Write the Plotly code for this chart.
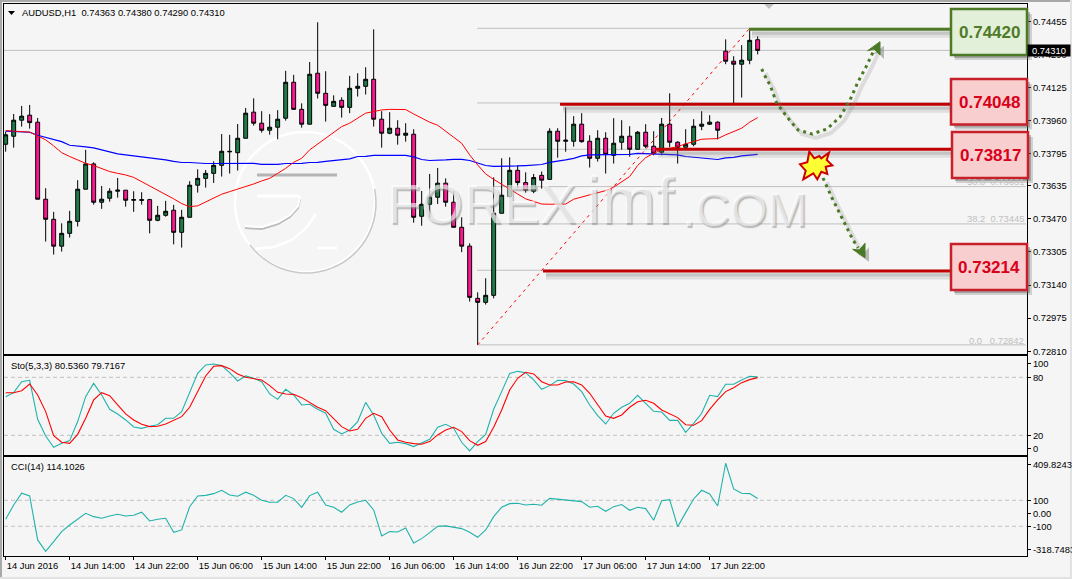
import numpy as np
import plotly.graph_objects as go

W, H = 1072, 579
FONT = "Liberation Sans"
FS = 9.4

# ---------- data (prices in 1e-5 units) ----------
opens = [73842,73882,73962,73987,73952,73568,73468,73334,73398,73458,
 73618,73744,73553,73573,73608,73613,73563,73566,73566,73463,
 73488,73513,73403,73478,73638,73672,73697,73737,73807,73800,
 73872,74002,73947,73912,73927,73972,74151,74016,73942,74196,
 74096,74031,74061,74026,74121,74131,74166,73967,73897,73922,
 73887,73892,73483,73543,73578,73648,73553,73428,73334,73074,
 73054,73089,73498,73581,73712,73651,73608,73687,73667,73907,
 73857,73857,73942,73857,73772,73872,73787,73852,73882,73817,
 73902,73832,73802,73942,73852,73827,73842,73932,73942,73952,
 74306,74256,74241,74261,74363]
highs = [73905,73993,74033,74038,73973,73623,73505,73448,73510,73663,
 73814,73752,73634,73623,73674,73613,73608,73603,73570,73535,
 73560,73540,73515,73658,73717,73714,73757,73893,73889,73943,
 74023,74071,74007,73992,74012,74208,74188,74046,74252,74450,
 74206,74086,74076,74183,74196,74226,74415,74007,74002,73962,
 73947,73917,73609,73694,73724,73672,73608,73478,73348,73104,
 73174,73677,73772,73777,73737,73702,73694,73706,73922,73922,
 74026,73982,73997,73887,73912,73902,73972,73962,73932,73908,
 73942,73907,73973,74096,73857,73917,73967,74007,73987,73957,
 74365,74281,74336,74415,74380]
lows = [73805,73825,73930,73920,73568,73357,73292,73307,73377,73432,
 73618,73541,73520,73556,73576,73531,73505,73541,73398,73458,
 73481,73343,73327,73478,73601,73626,73649,73681,73696,73711,
 73872,73935,73900,73890,73867,73960,74016,73925,73942,74070,
 73955,74030,73975,73997,74080,74090,73930,73825,73892,73840,
 73855,73451,73436,73476,73544,73531,73428,73304,73058,72842,
 73043,73074,73498,73578,73626,73601,73598,73621,73667,73775,
 73805,73830,73850,73726,73756,73696,73746,73815,73780,73817,
 73822,73787,73787,73827,73746,73827,73832,73912,73938,73867,
 74241,74046,74075,74241,74290]
closes = [73889,73962,73982,73950,73568,73468,73334,73398,73458,73618,
 73744,73553,73568,73608,73613,73563,73566,73563,73463,73488,
 73508,73403,73478,73638,73672,73697,73737,73807,73805,73872,
 73997,73947,73912,73927,73967,74151,74016,73942,74191,74096,
 74036,74056,74026,74121,74131,74166,73967,73897,73922,73887,
 73897,73478,73543,73578,73648,73553,73428,73334,73079,73054,
 73089,73498,73588,73712,73651,73613,73676,73663,73907,73857,
 73862,73942,73855,73772,73872,73792,73847,73882,73817,73902,
 73832,73797,73942,73852,73827,73842,73932,73942,73952,73912,
 74256,74241,74261,74360,74310]
ma_fast = [73910,73909,73905,73903,73884,73864,73834,73800,73781,73764,
 73747,73736,73719,73706,73697,73689,73677,73656,73636,73614,
 73594,73570,73546,73531,73535,73553,73573,73593,73606,73618,
 73631,73644,73659,73672,73697,73722,73752,73772,73814,73842,
 73872,73902,73930,73947,73972,73997,74005,74013,74016,74016,
 74015,73993,73972,73952,73937,73909,73877,73847,73789,73739,
 73694,73667,73644,73618,73594,73570,73558,73544,73543,73543,
 73544,73568,73579,73589,73601,73611,73628,73656,73681,73736,
 73775,73797,73814,73822,73830,73844,73857,73867,73869,73870,
 73889,73905,73922,73952,73975]
ma_slow = [73907,73905,73903,73902,73887,73875,73864,73855,73837,73834,
 73829,73824,73814,73804,73794,73789,73784,73781,73774,73769,
 73764,73757,73751,73751,73747,73746,73746,73746,73746,73746,
 73746,73747,73742,73742,73742,73746,73746,73747,73751,73752,
 73757,73761,73764,73769,73781,73782,73787,73787,73787,73787,
 73787,73779,73766,73761,73761,73764,73767,73767,73761,73747,
 73736,73732,73732,73732,73734,73736,73739,73741,73752,73757,
 73764,73772,73784,73789,73790,73790,73792,73792,73792,73797,
 73795,73794,73794,73792,73789,73781,73777,73774,73769,73766,
 73774,73777,73784,73787,73792]
sto_main = [60.0,64.1,75.5,76.9,36.6,19.3,7.6,11.7,14.5,34.2,
 60.0,73.8,61.7,46.9,42.1,35.9,28.6,27.2,29.3,31.0,
 37.6,37.6,44.5,63.5,84.1,92.8,93.8,92.1,84.8,76.2,
 81.4,79.0,75.5,62.8,57.2,67.6,61.7,51.4,52.1,46.9,
 42.8,26.2,21.4,25.5,34.2,54.1,41.0,22.1,11.7,12.8,
 11.4,8.3,11.7,15.9,28.3,31.4,27.2,12.8,3.8,13.5,
 21.0,46.9,65.2,84.1,86.2,84.8,77.3,67.6,71.4,76.9,
 76.6,73.1,65.2,51.4,40.3,31.7,42.8,49.0,53.1,61.4,
 53.1,44.8,44.1,35.5,35.5,23.1,32.4,42.8,61.4,60.0,
 72.8,72.8,77.3,81.0,80.5]
sto_signal = [64.1,64.1,66.2,73.1,61.7,44.5,19.7,12.8,11.7,21.0,
 37.6,56.6,64.1,61.0,51.4,42.1,35.9,31.4,29.0,29.3,
 31.7,35.2,39.3,49.0,65.2,81.4,91.4,92.1,89.0,83.5,
 80.0,79.0,77.3,71.4,64.5,62.8,62.4,59.0,53.8,49.0,
 45.5,37.6,29.0,24.5,26.2,37.6,42.8,39.3,25.5,15.2,
 12.8,11.4,10.7,13.5,20.4,25.5,28.3,23.8,14.5,9.7,
 13.5,28.3,46.2,66.9,79.0,85.2,83.5,75.5,72.1,72.1,
 75.2,75.5,72.1,63.5,51.4,40.0,37.6,41.0,49.0,54.8,
 56.2,53.1,46.2,42.1,38.3,31.0,30.4,35.2,46.9,56.6,
 65.2,69.3,74.5,77.6,79.7]
cci = [-46,64,154,133,-205,-292,-218,-141,-90,-46,
 0,-26,-38,-21,-8,-21,-15,8,-59,-46,
 -38,-146,-128,51,133,138,151,177,141,131,
 162,138,100,85,85,138,113,46,136,162,
 64,46,8,64,87,100,26,-174,-141,-144,
 -113,-228,-195,-149,-100,-97,-108,-118,-146,-185,
 -128,-26,46,74,77,64,69,62,115,110,
 100,100,90,46,54,15,51,67,23,46,
 36,-54,97,105,-103,5,110,177,149,56,
 385,187,154,151,114]

time_labels = ["14 Jun 2016","14 Jun 14:00","14 Jun 22:00","15 Jun 06:00","15 Jun 14:00","15 Jun 22:00",
               "16 Jun 06:00","16 Jun 14:00","16 Jun 22:00","17 Jun 06:00","17 Jun 14:00","17 Jun 22:00"]
price_ticks = ["0.74455","0.74290","0.74125","0.73960","0.73795","0.73635","0.73470","0.73305","0.73140","0.72975","0.72810"]
fib_price = [0.74420, 0.74048, 0.73817, 0.73631, 0.73445, 0.73214, 0.72842]
level_labels = ["0.74420", "0.74048", "0.73817", "0.73214"]

n = len(closes)
idx = np.arange(n)
price = lambda a: np.array(a) / 1e5

# ---------- pixel helpers for the hand-drawn overlay ----------
fx = lambda x: x / W
fy = lambda y: 1 - y / H
def path(pts, close=False, dx=0, dy=0):
    s = "M " + " L ".join(f"{fx(x+dx):.5f},{fy(y+dy):.5f}" for x, y in pts)
    return s + (" Z" if close else "")

L, R = 4, 1027
BAR0, BARW = 5.67, 8
xrange_ = [(L - BAR0) / BARW, (R - BAR0) / BARW]

fig = go.Figure()
fig.add_trace(go.Candlestick(
    x=idx, open=price(opens), high=price(highs), low=price(lows), close=price(closes),
    increasing=dict(fillcolor="#1E7B47", line=dict(color="#000000", width=1)),
    decreasing=dict(fillcolor="#FF1493", line=dict(color="#000000", width=1)),
    whiskerwidth=0, showlegend=False, hoverinfo="skip", xaxis="x", yaxis="y"))
fig.add_trace(go.Scatter(x=idx, y=price(ma_slow), mode="lines", line=dict(color="#0000FF", width=1.2), xaxis="x", yaxis="y", showlegend=False))
fig.add_trace(go.Scatter(x=idx, y=price(ma_fast), mode="lines", line=dict(color="#FF0000", width=1), xaxis="x", yaxis="y", showlegend=False))
fig.add_trace(go.Scatter(x=[59, 93], y=[fib_price[-1], fib_price[0]], mode="lines",
                         line=dict(color="#FF0000", width=1, dash="3px,4px"), xaxis="x", yaxis="y", showlegend=False))
fig.add_trace(go.Scatter(x=idx, y=sto_main, mode="lines", line=dict(color="#20B2AA", width=1.1), xaxis="x2", yaxis="y2", showlegend=False))
fig.add_trace(go.Scatter(x=idx, y=sto_signal, mode="lines", line=dict(color="#FF0000", width=1.1), xaxis="x2", yaxis="y2", showlegend=False))
fig.add_trace(go.Scatter(x=idx, y=cci, mode="lines", line=dict(color="#20B2AA", width=1.1), xaxis="x3", yaxis="y3", showlegend=False))

shapes = []
def add(**k):
    shapes.append(k)

# page frame
add(type="rect", xref="paper", yref="paper", x0=0, x1=fx(2), y0=0, y1=1, fillcolor="#A8A8A8", line_width=0, layer="below")
add(type="rect", xref="paper", yref="paper", x0=0, x1=1, y0=fy(2), y1=1, fillcolor="#A8A8A8", line_width=0, layer="below")
add(type="rect", xref="paper", yref="paper", x0=0, x1=1, y0=0, y1=fy(577), fillcolor="#E2E2E2", line_width=0, layer="below")
add(type="rect", xref="paper", yref="paper", x0=fx(1070), x1=1, y0=0, y1=1, fillcolor="#E2E2E2", line_width=0, layer="below")

# current price and Fibonacci lines
add(type="line", xref="paper", yref="y", x0=fx(L), x1=fx(R), y0=0.74310, y1=0.74310, line=dict(color="#C0C0C0", width=1), layer="below")
for p in fib_price:
    add(type="line", xref="paper", yref="y", x0=fx(477), x1=fx(1026), y0=p, y1=p, line=dict(color="#C0C0C0", width=1), layer="below")

# indicator levels
for lev, ya in [(80, "y2"), (20, "y2"), (100, "y3"), (-100, "y3")]:
    add(type="line", xref="paper", yref=ya, x0=fx(L), x1=fx(R), y0=lev, y1=lev, line=dict(color="#C0C0C0", width=1, dash="4px,3px"), layer="below")

# watermark logo
cx, cy, r = 305, 202, 70
add(type="circle", xref="paper", yref="paper", x0=fx(cx-r), x1=fx(cx+r), y0=fy(cy+r), y1=fy(cy-r), line=dict(color="#FFFFFF", width=2.5), layer="below")
arc = [(cx + r*np.cos(t), cy + r*np.sin(t)) for t in np.linspace(-0.2, 2.5, 30)]
add(type="path", xref="paper", yref="paper", path=path(arc, dx=1, dy=1), line=dict(color="#C8C8C8", width=1.5), layer="below")
add(type="line", xref="paper", yref="paper", x0=fx(257), x1=fx(337), y0=fy(175), y1=fy(175), line=dict(color="#B4B4B4", width=3), layer="below")
add(type="line", xref="paper", yref="paper", x0=fx(257), x1=fx(300), y0=fy(196), y1=fy(196), line=dict(color="#FFFFFF", width=3), layer="below")
add(type="line", xref="paper", yref="paper", x0=fx(317), x1=fx(337), y0=fy(248), y1=fy(248), line=dict(color="#FFFFFF", width=3), layer="below")
swoop1 = [(300,197),(298,206),(290,215),(278,222),(262,227),(245,226)]
swoop2 = [(316,214),(306,228),(292,240),(274,247),(255,249)]
add(type="path", xref="paper", yref="paper", path=path(swoop1, dx=0, dy=2), line=dict(color="#BDBDBD", width=2), layer="below")
add(type="path", xref="paper", yref="paper", path=path(swoop1), line=dict(color="#FFFFFF", width=2), layer="below")
add(type="path", xref="paper", yref="paper", path=path(swoop2), line=dict(color="#FFFFFF", width=2.5), layer="below")

# trade levels: lines with soft shadows, then boxes
level_lines = [(749, 951, 29.3, "#4E7A27"), (560, 951, 104.3, "#C00000"), (655, 952, 149.3, "#C00000"), (543, 951, 271, "#C00000")]
for x0, x1, y, col in level_lines:
    add(type="line", xref="paper", yref="paper", x0=fx(x0+3), x1=fx(x1), y0=fy(y+5), y1=fy(y+5), line=dict(color="rgba(120,120,120,0.18)", width=7))
    add(type="line", xref="paper", yref="paper", x0=fx(x0+3), x1=fx(x1), y0=fy(y+4), y1=fy(y+4), line=dict(color="rgba(120,120,120,0.25)", width=3))
    add(type="line", xref="paper", yref="paper", x0=fx(x0), x1=fx(x1), y0=fy(y), y1=fy(y), line=dict(color=col, width=3))

boxes = [(951, 1027, 9, 55, "#E2F0D9", "#4E7A27", "#4F7A28", level_labels[0]),
         (951, 1027, 79, 124.5, "#F8CECE", "#C8202A", "#D8001A", level_labels[1]),
         (952, 1028, 132, 178, "#F8CECE", "#C8202A", "#D8001A", level_labels[2]),
         (951, 1027, 244, 290, "#F8CECE", "#C8202A", "#D8001A", level_labels[3])]
annotations = []
for x0, x1, y0, y1, fc, lc, tc, txt in boxes:
    add(type="rect", xref="paper", yref="paper", x0=fx(x0+4), x1=fx(x1+5), y0=fy(y1+5), y1=fy(y0+5), fillcolor="rgba(100,100,100,0.25)", line_width=0)
    add(type="rect", xref="paper", yref="paper", x0=fx(x0+3), x1=fx(x1+3), y0=fy(y1+3), y1=fy(y0+3), fillcolor="rgba(90,90,90,0.4)", line_width=0)
    add(type="rect", xref="paper", yref="paper", x0=fx(x0), x1=fx(x1), y0=fy(y1), y1=fy(y0), fillcolor=fc, line=dict(color=lc, width=2.5))
    annotations.append(dict(xref="paper", yref="paper", x=fx((x0+x1)/2), y=fy((y0+y1)/2 + 0.5), text=f"<b>{txt}</b>", showarrow=False,
                            font=dict(family="Liberation Sans", size=17, color=tc), xanchor="center", yanchor="middle"))

# dotted arrows
GREEN = "#4A7A25"
up_curve = [(761.7,69),(765,76),(770,85),(776.7,103),(787,117),(798,130),(812,134),(827,129),(840,117),(850,100),(858,82),(867,65),(875,48)]
dn_curve = [(823,178),(832,198),(842,218),(852,238),(858,248)]
up_head = [(867.7,50.7),(880,41.7),(880,55),(874,49)]
dn_head = [(865,257.7),(852.7,249.3),(859.3,250),(865,243.3)]
for curve in (up_curve, dn_curve):
    add(type="path", xref="paper", yref="paper", path=path(curve, dx=4, dy=4), line=dict(color="rgba(120,120,120,0.2)", width=4))
for head in (up_head, dn_head):
    add(type="path", xref="paper", yref="paper", path=path(head, close=True, dx=4, dy=4), fillcolor="rgba(110,110,110,0.45)", line_width=0)
for curve in (up_curve, dn_curve):
    add(type="path", xref="paper", yref="paper", path=path(curve), line=dict(color=GREEN, width=3, dash="3px,4px"))
for head in (up_head, dn_head):
    add(type="path", xref="paper", yref="paper", path=path(head, close=True), fillcolor=GREEN, line=dict(color=GREEN, width=1))

# burst
burst = [(809.3,151.7),(814.3,158.3),(819.3,156),(821.3,158.3),(829,152.7),(826.7,160),(832.3,165.3),(825.7,166.7),
         (827.3,174),(821.3,171.7),(817.3,179.3),(813.3,173.3),(803.3,179.3),(805.7,170.7),(800,164.3),(807.3,162.3)]
add(type="path", xref="paper", yref="paper", path=path(burst, close=True), fillcolor="#FFFF33", line=dict(color="#CC0000", width=2))
# chart-shift marker
add(type="path", xref="paper", yref="paper", path=path([(764,4),(774,4),(769,9)], close=True), fillcolor="#C0C0C0", line_width=0, layer="below")
# menu triangle of the title
add(type="path", xref="paper", yref="paper", path=path([(8,11),(15,11),(11.5,15)], close=True), fillcolor="#000000", line_width=0)

def note(x, y, text, size=FS, color="#000000", anchor="left"):
    annotations.append(dict(xref="paper", yref="paper", x=fx(x), y=fy(y), text=text, showarrow=False, xanchor=anchor, yanchor="middle",
                            font=dict(family=FONT, size=size, color=color)))

note(20, 12.5, "AUDUSD,H1&nbsp;&nbsp;0.74363 0.74380 0.74290 0.74310")
note(9, 365.5, "Sto(5,3,3) 80.5360 79.7167")
note(9, 466.5, "CCI(14) 114.1026")
note(1026, 181, "50.0&nbsp;&nbsp;0.73631", color="#C0C0C0", anchor="right")
note(1026, 218.7, "38.2&nbsp;&nbsp;0.73445", color="#C0C0C0", anchor="right")
note(1026, 340, "0.0&nbsp;&nbsp;&nbsp;0.72842", color="#C0C0C0", anchor="right")
# current-price tag
annotations.append(dict(xref="paper", yref="paper", x=fx(1049), y=fy(50.3), text="0.74310", showarrow=False, xanchor="center", yanchor="middle",
                        font=dict(family=FONT, size=FS, color="#FFFFFF"), bgcolor="#000000", borderpad=0, width=42, height=11))
# watermark text: embossed letters laid over the chart, like the original's translucent logo
emboss = "1.5px 1.5px 1px rgba(130,130,130,0.85)"
for x, y, txt, size in [(385, 204, "FOREX", 55), (584, 200, "imf", 66), (680, 209, ".COM", 48)]:
    annotations.append(dict(xref="paper", yref="paper", x=fx(x), y=fy(y), text=txt, showarrow=False, xanchor="left", yanchor="middle",
                            font=dict(family="Liberation Sans", size=size, color="rgba(255,255,255,0.6)", shadow=emboss)))

tickfont = dict(family=FONT, size=FS, color="#000000")
def xax(**k):
    d = dict(domain=[fx(L), fx(R)], range=xrange_, showgrid=False, zeroline=False, showline=True, mirror=True, automargin=False,
             linecolor="#000000", linewidth=1, showticklabels=False, ticks="", fixedrange=True)
    d.update(k)
    return d
def yax(top, bot, rng, vals, txt, **k):
    d = dict(domain=[fy(bot), fy(top)], range=rng, side="right", showgrid=False, zeroline=False, showline=True, mirror=True, automargin=False,
             linecolor="#000000", linewidth=1, tickmode="array", tickvals=vals, ticktext=txt, ticks="outside", ticklen=3,
             tickcolor="#000000", tickfont=tickfont, fixedrange=True)
    d.update(k)
    return d

fig.update_layout(
    width=W, height=H, autosize=False, margin=dict(l=0, r=0, t=0, b=0, autoexpand=False),
    paper_bgcolor="#F5F5F5", plot_bgcolor="#F5F5F5", showlegend=False,
    xaxis=xax(rangeslider=dict(visible=False), anchor="y"),
    xaxis2=xax(anchor="y2"),
    xaxis3=xax(anchor="y3", showticklabels=True, ticks="outside", ticklen=3, tickcolor="#000000", tickmode="array",
               tickvals=list(range(0, 96, 8)), ticktext=time_labels, tickfont=tickfont, ticklabelposition="outside right", tickangle=0),
    yaxis=yax(4.3, 354.3, [0.72795, 0.745397], [float(t) for t in price_ticks], price_ticks, anchor="x"),
    yaxis2=yax(356, 455.3, [-0.69, 102.07], [94.5, 80, 20, 6.2], ["100", "80", "20", "0"], anchor="x2"),
    yaxis3=yax(457, 556.3, [-331, 433], [374, 100, 0, -100, -277], ["409.8243", "100", "0.00", "-100", "-318.7483"], anchor="x3"),
    shapes=shapes, annotations=annotations,
)
fig.write_html("out.html", config=dict(displayModeBar=False),
               post_script="document.body.style.margin='0';document.body.style.overflow='hidden';")
